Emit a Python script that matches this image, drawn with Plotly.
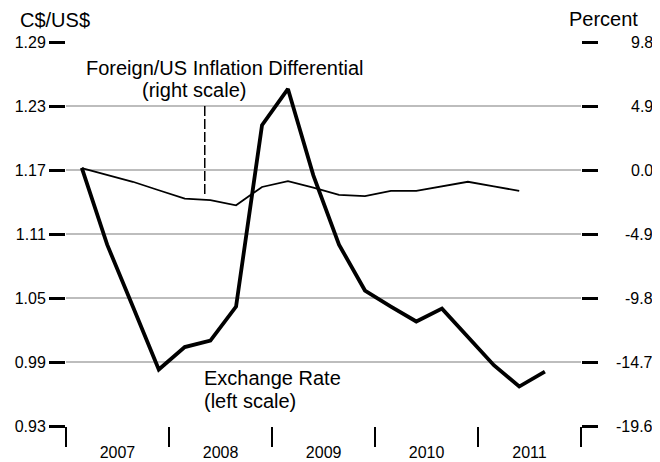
import plotly.graph_objects as go
import pandas as pd

# Quarterly observations, 2007Q1 .. 2011Q3
quarters = ["2007Q1", "2007Q2", "2007Q3", "2007Q4",
            "2008Q1", "2008Q2", "2008Q3", "2008Q4",
            "2009Q1", "2009Q2", "2009Q3", "2009Q4",
            "2010Q1", "2010Q2", "2010Q3", "2010Q4",
            "2011Q1", "2011Q2", "2011Q3"]

exchange_rate = [1.172, 1.100, 1.042, 0.983, 1.004, 1.010, 1.042, 1.212, 1.246,
                 1.165, 1.100, 1.057, 1.042, 1.028, 1.040, 1.013, 0.987, 0.967, 0.981]

inflation_diff = [0.15, -0.40, -0.90, -1.55, -2.20, -2.30, -2.70, -1.30, -0.85,
                  -1.35, -1.90, -2.00, -1.60, -1.60, -1.25, -0.90, -1.25, -1.60]

left_ticks = [0.93, 0.99, 1.05, 1.11, 1.17, 1.23, 1.29]
right_ticks = [-19.6, -14.7, -9.8, -4.9, 0.0, 4.9, 9.8]
right_tick_labels = ["-19.6", "-14.7", "-9.8", "-4.9", "0.0", "4.9", "9.8"]

# quarterly positions (plotted slightly after mid-quarter)
dates = [pd.Period(q, freq="Q").start_time + pd.Timedelta(days=56) for q in quarters]

FONT = "Liberation Sans, Arial, Helvetica, sans-serif"

fig = go.Figure()
fig.add_trace(go.Scatter(x=dates, y=exchange_rate, mode="lines",
                         line=dict(color="black", width=3.8), yaxis="y",
                         showlegend=False))
fig.add_trace(go.Scatter(x=dates[:len(inflation_diff)], y=inflation_diff, mode="lines",
                         line=dict(color="black", width=1.8), yaxis="y2",
                         showlegend=False))

# The page body adds an 8px offset, so the figure is 8px smaller in each direction.
fig.update_layout(
    width=652, height=454,
    margin=dict(l=58, r=79, t=34, b=36),
    paper_bgcolor="white", plot_bgcolor="white",
    font=dict(family=FONT, size=16, color="black"),
    xaxis=dict(
        type="date", automargin=False,
        range=["2007-01-01", "2012-01-01"],
        tick0="2007-01-01", dtick="M12",
        ticklabelmode="period", tickformat="%Y",
        ticks="outside", ticklen=20, tickwidth=2, tickcolor="black",
        ticklabelstandoff=-8,
        showgrid=False, showline=False, zeroline=False,
        tickfont=dict(size=16),
    ),
    yaxis=dict(
        automargin=False,
        range=[0.93, 1.29], tickvals=left_ticks,
        ticktext=[f"{v:.2f}" for v in left_ticks],
        ticks="outside", ticklen=16, tickwidth=2.5, tickcolor="black",
        showgrid=True, gridcolor="#bdbdbd", gridwidth=2,
        zeroline=False, showline=False,
        tickfont=dict(size=16),
    ),
    yaxis2=dict(
        automargin=False,
        overlaying="y", side="right",
        range=[-19.6, 9.8], tickvals=right_ticks,
        ticks="outside", ticklen=16, tickwidth=2.5, tickcolor="black",
        showticklabels=False, showgrid=False, zeroline=False, showline=False,
    ),
)

annotations = []
for v, t in zip(right_ticks, right_tick_labels):
    annotations.append(dict(xref="paper", yref="y2", x=1.1437, y=v, text=t,
                            showarrow=False, xanchor="right", yanchor="middle",
                            font=dict(size=16)))
annotations += [
    dict(xref="paper", yref="paper", x=-0.0932, y=1.0573, text="C$/US$",
         showarrow=False, xanchor="left", yanchor="middle", font=dict(size=20)),
    dict(xref="paper", yref="paper", x=1.1146, y=1.06, text="Percent",
         showarrow=False, xanchor="right", yanchor="middle", font=dict(size=20)),
    dict(xref="x", yref="y2", x="2008-07-17", y=7.81, text="Foreign/US Inflation Differential",
         showarrow=False, xanchor="center", yanchor="middle", font=dict(size=20)),
    dict(xref="x", yref="y2", x="2008-03-29", y=6.12, text="(right scale)",
         showarrow=False, xanchor="center", yanchor="middle", font=dict(size=20)),
    dict(xref="x", yref="y", x="2008-04-27", y=0.975, text="Exchange Rate",
         showarrow=False, xanchor="left", yanchor="middle", font=dict(size=20)),
    dict(xref="x", yref="y", x="2008-04-27", y=0.9534, text="(left scale)",
         showarrow=False, xanchor="left", yanchor="middle", font=dict(size=20)),
]
fig.update_layout(annotations=annotations)

fig.add_shape(type="line", xref="x", yref="y2", x0="2008-05-07", x1="2008-05-07",
              y0=4.9, y1=-1.9, line=dict(color="black", width=1.5, dash="10px,3px"))

fig.write_html("out.html")
